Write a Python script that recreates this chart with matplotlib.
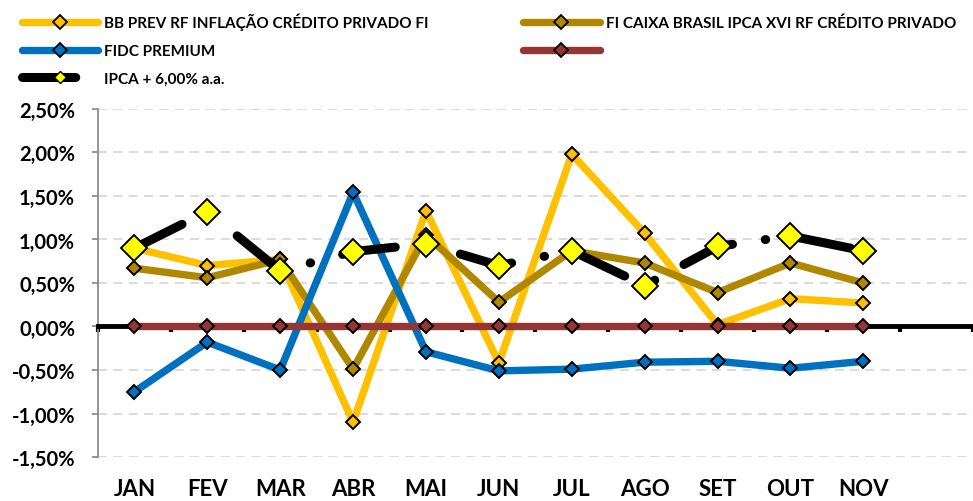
import matplotlib.pyplot as plt
from matplotlib.lines import Line2D
from matplotlib.ticker import FuncFormatter, MultipleLocator
import numpy as np

plt.rcParams['font.family'] = ['Lato', 'DejaVu Sans']
plt.rcParams['font.weight'] = 'bold'

# dados (% ao mes)
meses = ['JAN', 'FEV', 'MAR', 'ABR', 'MAI', 'JUN', 'JUL', 'AGO', 'SET', 'OUT', 'NOV', '']
bb_prev = [0.90, 0.70, 0.77, -1.10, 1.33, -0.42, 1.98, 1.07, 0.02, 0.32, 0.27]
caixa_ipca = [0.67, 0.56, 0.77, -0.49, 1.05, 0.28, 0.87, 0.73, 0.39, 0.73, 0.50]
fidc_premium = [-0.75, -0.18, -0.50, 1.54, -0.29, -0.51, -0.49, -0.41, -0.40, -0.48, -0.40]
sem_nome = [0.0] * 11
ipca_6 = [0.90, 1.32, 0.64, 0.86, 0.95, 0.70, 0.87, 0.47, 0.92, 1.04, 0.87]

nomes = ['BB PREV RF INFLAÇÃO CRÉDITO PRIVADO FI',
         'FI CAIXA BRASIL IPCA XVI RF CRÉDITO PRIVADO',
         'FIDC PREMIUM',
         '',
         'IPCA + 6,00% a.a.']
cores = ['#FFC000', '#B08800', '#0070C0', '#943634']

x = np.arange(len(bb_prev))

fig = plt.figure(figsize=(9.73, 5.02), dpi=100)
ax = fig.add_axes([0.1007, 0.0876, 0.899, 0.6934])

lw = 5.3
traco = (0, (5.9, 3.67, 0.05, 3.67))
series = [bb_prev, caixa_ipca, fidc_premium, sem_nome]
for i, (dados, cor) in enumerate(zip(series, cores)):
    ax.plot(x, dados, color=cor, lw=lw, marker='D', ms=7.5, mfc=cor, mec='black',
            mew=1.4, solid_joinstyle='round', solid_capstyle='butt', zorder=3 + i)

# IPCA + 6%: linha preta traco-ponto com marcadores amarelos grandes
ax.plot(x, ipca_6, color='black', lw=6.5, linestyle=traco,
        dash_capstyle='round', zorder=7)
ax.plot(x, ipca_6, linestyle='none', marker='D', ms=13, mfc='#FFFF00', mec='black',
        mew=1.4, zorder=8)

ax.set_xlim(-0.5, 11.5)
ax.set_ylim(-1.5, 2.5)

ax.yaxis.set_major_locator(MultipleLocator(0.5))
ax.yaxis.set_major_formatter(FuncFormatter(lambda v, p: f'{v:.2f}%'.replace('.', ',')))
ax.grid(axis='y', color='#D9D9D9', lw=1.3, linestyle=(0, (5, 3.5)), zorder=0)
ax.set_axisbelow(True)

for s in ['top', 'right']:
    ax.spines[s].set_visible(False)
ax.spines['left'].set_color('#8C8C8C')
ax.spines['left'].set_linewidth(1.3)
ax.spines['bottom'].set_position(('data', 0))
ax.spines['bottom'].set_color('black')
ax.spines['bottom'].set_linewidth(3.5)

ax.set_xticks(np.arange(-0.5, 12, 1))
ax.set_xticklabels([])
ax.tick_params(axis='x', direction='out', length=4, width=3, color='black')
ax.tick_params(axis='y', direction='out', length=4.5, width=1.3, color='#8C8C8C',
               labelsize=14.5, pad=12)

sec = ax.secondary_xaxis(0)
sec.set_xticks(np.arange(12), labels=meses)
sec.tick_params(length=0, pad=15, labelsize=16)
sec.spines['bottom'].set_visible(False)

# legenda em duas colunas (ordem das colunas como no Excel)
h = [Line2D([], [], color=c, lw=lw, marker='D', ms=7, mfc=c, mec='black', mew=1.3,
            solid_capstyle='round') for c in cores]
h.append(Line2D([], [], color='black', lw=6.5, linestyle=traco,
                dash_capstyle='round', marker='D', ms=6, mfc='#FFFF00', mec='black', mew=1))
ordem = [0, 2, 4, 1, 3]
fig.legend([h[i] for i in ordem], [nomes[i] for i in ordem], ncol=2, loc='upper left',
           bbox_to_anchor=(0.008, 1.0), frameon=False, fontsize=11,
           handlelength=5.0, handletextpad=0.4, columnspacing=6.2, labelspacing=0.9)

fig.savefig('out.png', dpi=100)
